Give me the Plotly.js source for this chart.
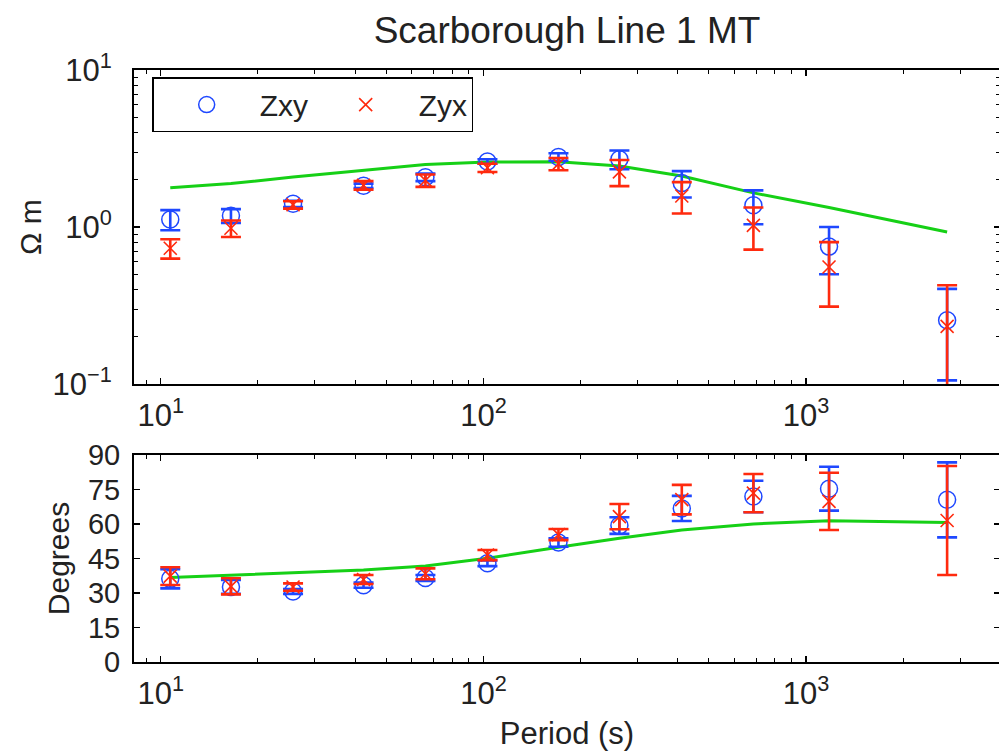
<!DOCTYPE html>
<html>
<head>
<meta charset="utf-8">
<script src="https://cdn.plot.ly/plotly-3.0.1.min.js"></script>
<style>
  html, body { margin: 0; padding: 0; overflow: hidden; background: #fff; }
  #chart { width: 1010px; height: 751px; }
</style>
</head>
<body>
<div id="chart"></div>
<script>
// Sounding periods (s)
const periods = [10.7, 16.5, 25.7, 42.5, 66.1, 102.9, 170.8, 263.9, 411.9, 686.6, 1178, 2736];

// Apparent resistivity (ohm m) and symmetric errors
const rhoXY    = [1.117, 1.18, 1.405, 1.83, 2.075, 2.615, 2.795, 2.70, 1.905, 1.375, 0.75, 0.2545];
const rhoXYErr = [0.164, 0.12, 0.065, 0.06, 0.115, 0.085, 0.155, 0.37, 0.365, 0.335, 0.25, 0.149];
const rhoYX    = [0.732, 0.982, 1.385, 1.845, 1.98, 2.385, 2.525, 2.245, 1.575, 1.024, 0.556, 0.233];
const rhoYXErr = [0.103, 0.118, 0.075, 0.115, 0.18, 0.145, 0.225, 0.425, 0.355, 0.306, 0.245, 0.193];

// Impedance phase (degrees) and symmetric errors
const phaseXY    = [36.15, 32.65, 30.65, 33.4, 36.5, 42.9, 51.95, 59.3, 66.75, 71.95, 75.35, 70.5];
const phaseXYErr = [4.15, 3.05, 1.05, 1.1, 1.3, 1.2, 1.85, 3.6, 5.45, 6.85, 9.55, 16.3];
const phaseYX    = [37.35, 32.9, 32.6, 35.85, 38.35, 46.5, 55.4, 63.2, 70.6, 73.4, 69.85, 61.5];
const phaseYXErr = [3.85, 3.5, 1.6, 1.95, 2.35, 2.2, 2.4, 5.5, 6.4, 8.3, 12.45, 23.7];

// Model response
const rhoModel   = [1.78, 1.89, 2.08, 2.30, 2.50, 2.59, 2.60, 2.45, 2.11, 1.65, 1.33, 0.93];
const phaseModel = [36.7, 37.8, 38.6, 40.0, 41.7, 45.1, 49.9, 53.8, 57.4, 60.0, 61.4, 60.6];

// Labels and ticks
const chartTitle = 'Scarborough Line 1 MT';
const rhoLabel = 'Ω m';
const phaseLabel = 'Degrees';
const periodLabel = 'Period (s)';
const seriesNames = ['Zxy', 'Zyx'];
const periodTickVals = [10, 100, 1000];
const periodTickText = ['10<sup>1</sup>', '10<sup>2</sup>', '10<sup>3</sup>'];
const rhoTickVals = [0.1, 1, 10];
const rhoTickText = ['10<sup>−1</sup>', '10<sup>0</sup>', '10<sup>1</sup>'];
const phaseTicks = [0, 15, 30, 45, 60, 75, 90];

const BLUE = '#1f48ff';
const RED = '#ff2a0e';
const GREEN = '#16d016';
const FONT = 'Liberation Sans, Arial, Helvetica, sans-serif';
const INK = '#222222';

// minor log ticks at 2..9 of every decade between the given exponents
function minorLogTicks(e0, e1) {
  const out = [];
  for (let e = e0; e <= e1; e++) {
    for (let d = 2; d <= 9; d++) out.push(d * Math.pow(10, e));
  }
  return out;
}

function errBar(arr, color) {
  return { type: 'data', array: arr, symmetric: true, visible: true,
           color: color, thickness: 2.6, width: 10 };
}

const traces = [
  // resistivity panel
  { x: periods, y: rhoModel, mode: 'lines', line: { color: GREEN, width: 3 },
    showlegend: false, xaxis: 'x', yaxis: 'y', hoverinfo: 'skip' },
  { x: periods, y: rhoXY, name: seriesNames[0], mode: 'markers',
    marker: { symbol: 'circle-open', size: 17, color: BLUE, line: { width: 1.5, color: BLUE } },
    error_y: errBar(rhoXYErr, BLUE), xaxis: 'x', yaxis: 'y' },
  { x: periods, y: rhoYX, name: seriesNames[1], mode: 'markers',
    marker: { symbol: 'x-thin-open', size: 13, color: RED, line: { width: 1.6, color: RED } },
    error_y: errBar(rhoYXErr, RED), xaxis: 'x', yaxis: 'y' },
  // phase panel
  { x: periods, y: phaseModel, mode: 'lines', line: { color: GREEN, width: 3 },
    showlegend: false, xaxis: 'x2', yaxis: 'y2', hoverinfo: 'skip' },
  { x: periods, y: phaseXY, mode: 'markers', showlegend: false,
    marker: { symbol: 'circle-open', size: 17, color: BLUE, line: { width: 1.5, color: BLUE } },
    error_y: errBar(phaseXYErr, BLUE), xaxis: 'x2', yaxis: 'y2' },
  { x: periods, y: phaseYX, mode: 'markers', showlegend: false,
    marker: { symbol: 'x-thin-open', size: 13, color: RED, line: { width: 1.6, color: RED } },
    error_y: errBar(phaseYXErr, RED), xaxis: 'x2', yaxis: 'y2' }
];

const frame = {
  showline: true, linecolor: '#000', linewidth: 2, mirror: 'ticks',
  ticks: 'inside', ticklen: 6, tickwidth: 1.2, tickcolor: '#000',
  showgrid: false, zeroline: false,
  tickfont: { family: FONT, size: 29, color: INK }
};
const logTickFont = { family: FONT, size: 31, color: INK };
const minorStyle = { ticks: 'inside', ticklen: 4, tickwidth: 1, tickcolor: '#000', showgrid: false };
const xRange = [0.917, 3.601];
const xMinor = Object.assign({}, minorStyle, { tickmode: 'array', tickvals: minorLogTicks(0, 3) });
const yMinor = Object.assign({}, minorStyle, { tickmode: 'array', tickvals: minorLogTicks(-1, 0) });

const layout = {
  width: 1010, height: 751,
  margin: { l: 134, r: 10, t: 70, b: 89 },
  paper_bgcolor: '#fff', plot_bgcolor: '#fff',
  font: { family: FONT, color: INK },
  title: { text: chartTitle, font: { family: FONT, size: 37, color: INK },
           x: 0.5, xref: 'paper', xanchor: 'center', y: 0.96, yanchor: 'middle' },
  showlegend: true,
  legend: {
    orientation: 'h', x: 0.021, y: 0.988, xanchor: 'left', yanchor: 'top',
    bgcolor: '#fff', bordercolor: '#000', borderwidth: 1.5,
    font: { family: FONT, size: 30, color: INK },
    itemwidth: 96, entrywidth: 48, entrywidthmode: 'pixels'
  },
  xaxis: Object.assign({}, frame, {
    type: 'log', range: xRange, domain: [0, 1], anchor: 'y',
    tickmode: 'array', tickvals: periodTickVals, ticktext: periodTickText,
    tickfont: logTickFont, minor: xMinor, ticklabelstandoff: 3
  }),
  yaxis: Object.assign({}, frame, {
    type: 'log', range: [-1, 1], domain: [0.4696, 1], anchor: 'x',
    tickmode: 'array', tickvals: rhoTickVals, ticktext: rhoTickText,
    tickfont: logTickFont, minor: yMinor, ticklabelstandoff: 14,
    title: { text: rhoLabel, font: { family: FONT, size: 30, color: INK }, standoff: 2 }
  }),
  xaxis2: Object.assign({}, frame, {
    type: 'log', range: xRange, domain: [0, 1], anchor: 'y2',
    tickmode: 'array', tickvals: periodTickVals, ticktext: periodTickText,
    tickfont: logTickFont, minor: xMinor, ticklabelstandoff: 3,
    title: { text: periodLabel, font: { family: FONT, size: 31, color: INK }, standoff: 14 }
  }),
  yaxis2: Object.assign({}, frame, {
    type: 'linear', range: [0, 90], domain: [0, 0.3497], anchor: 'x2',
    tickmode: 'array', tickvals: phaseTicks, ticktext: phaseTicks.map(String), ticklabelstandoff: 6,
    title: { text: phaseLabel, font: { family: FONT, size: 30, color: INK }, standoff: 9 }
  })
};

Plotly.newPlot('chart', traces, layout, { staticPlot: true, displayModeBar: false });
</script>
</body>
</html>
